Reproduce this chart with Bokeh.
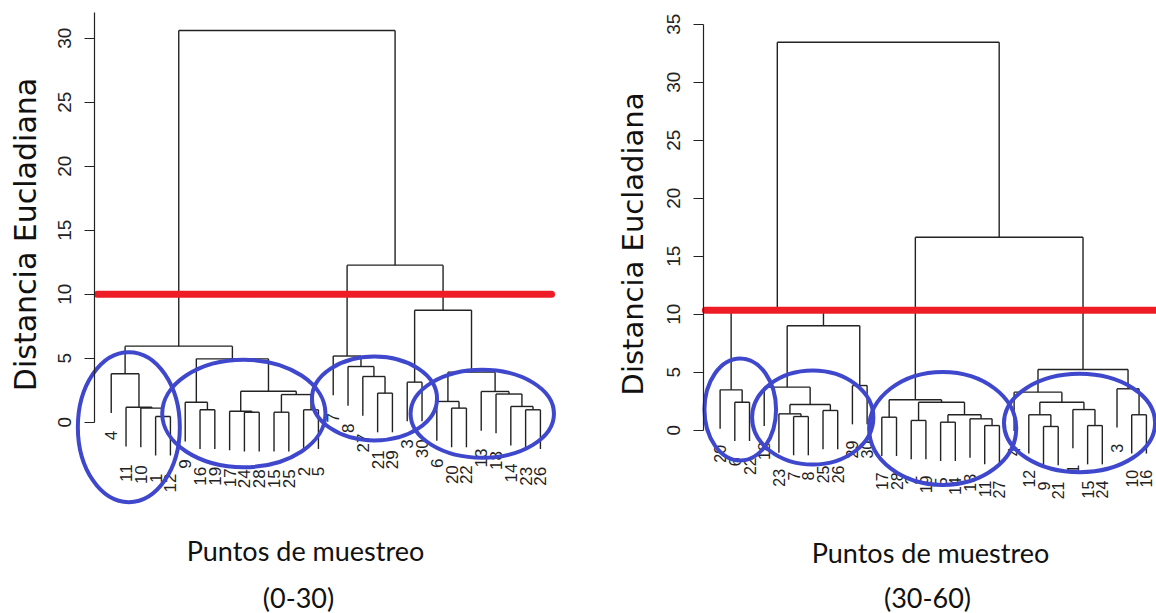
import math
from bokeh.plotting import figure
from bokeh.models import ColumnDataSource, Range1d, SingleIntervalTicker
from bokeh.layouts import row
from bokeh.core.properties import value
from bokeh.embed import file_html
from bokeh.resources import INLINE

# ---------------- data ----------------
# leaf labels in dendrogram order
LEFT_LEAVES = [4, 11, 10, 1, 12, 9, 16, 19, 17, 24, 28, 15, 25, 2, 5,
               7, 8, 27, 21, 29, 3, 30, 6, 20, 22, 13, 18, 14, 23, 26]
# merges (hclust style): negative = leaf position, positive = earlier merge
LEFT_A = [-4, -3, -2, -1, -7, -6, -10, -9, -12, -14, 9, 8, 6, 4,
          -19, -18, -17, -16, -21, -24, -23, -29, -28, -27, -26, 21, 19, 18, 14]
LEFT_B = [-5, 1, 2, 3, -8, 5, -11, 7, -13, -15, 10, 11, 12, 13,
          -20, 15, 16, 17, -22, -25, 20, -30, 22, 23, 24, 25, 26, 27, 28]
LEFT_H = [0.45, 1.10, 1.17, 3.78, 0.97, 1.56, 0.78, 0.86, 0.78, 0.97, 2.16, 2.42, 4.95, 5.94,
          2.27, 3.57, 4.35, 5.17, 3.13, 1.10, 1.62, 0.97, 1.23, 2.20, 2.40, 3.91, 8.75, 12.27, 30.6]
LEFT_CUT = 10.0

RIGHT_LEAVES = [20, 6, 22, 18, 23, 7, 8, 25, 26, 29, 30, 17, 28, 2, 19,
                5, 14, 13, 11, 27, 4, 12, 9, 21, 1, 15, 24, 3, 10, 16]
RIGHT_A = [-2, -1, -6, -5, -8, 4, -4, -10, 7, 2, -12, -14, -16, -19, -18,
           13, 12, 11, -23, -22, -26, -25, 20, -21, -29, -28, 24, 18, 10]
RIGHT_B = [-3, 1, -7, 3, -9, 5, 6, -11, 8, 9, -13, -15, -17, -20, 14,
           15, 16, 17, -24, 19, -27, 21, 22, 23, -30, 25, 26, 27, 28]
RIGHT_H = [2.41, 3.48, 1.18, 1.41, 1.70, 2.21, 3.71, 3.85, 9.0, 10.4, 1.12, 0.84, 0.69, 0.40, 0.98,
           1.33, 2.41, 2.62, 0.32, 1.33, 0.40, 1.78, 2.41, 3.28, 1.33, 3.57, 5.23, 16.64, 33.45]
RIGHT_CUT = 10.35

# group ellipses (centre x, centre y, width, height in data units)
LEFT_ELL_X = [2.19, 9.96, 18.79, 26.07]
LEFT_ELL_Y = [-0.39, 0.68, 1.85, 0.66]
LEFT_ELL_W = [6.89, 11.03, 8.45, 9.69]
LEFT_ELL_H = [11.72, 8.39, 6.56, 6.88]
RIGHT_ELL_X = [2.37, 7.30, 16.14, 25.45]
RIGHT_ELL_Y = [1.78, 1.09, 0.15, 0.62]
RIGHT_ELL_W = [4.87, 8.25, 10.01, 10.28]
RIGHT_ELL_H = [8.79, 8.10, 9.74, 8.48]

Y_TITLE = "Distancia Eucladiana"
X_TITLE = "Puntos de muestreo"
LEFT_SUB = "(0-30)"
RIGHT_SUB = "(30-60)"

# ---------------- style / layout ----------------
TREE_COLOR = "#222222"
CUT_COLOR = "#ee1c25"
ELL_COLOR = "#3f48cc"
FIG_H = 613
LABEL_GAP = 1.4
AXIS_X = -0.13          # data x where the y axis sits (plot region edge)


def dendro_segments(merge_a, merge_b, heights):
    hang = 0.1 * max(heights)
    nx, nh = {}, {}
    x0, y0, x1, y1 = [], [], [], []
    leaf_x, leaf_bottom = [], []
    for i, (a, b, h) in enumerate(zip(merge_a, merge_b, heights), start=1):
        xs = []
        for c in (a, b):
            if c < 0:
                cx, ch = float(-c), h - hang
                leaf_x.append(cx)
                leaf_bottom.append(ch)
            else:
                cx, ch = nx[c], nh[c]
            x0.append(cx); y0.append(ch); x1.append(cx); y1.append(h)
            xs.append(cx)
        x0.append(xs[0]); y0.append(h); x1.append(xs[1]); y1.append(h)
        nx[i] = (xs[0] + xs[1]) / 2.0
        nh[i] = h
    return dict(x0=x0, y0=y0, x1=x1, y1=y1), leaf_x, leaf_bottom


def make_panel(leaves, ma, mb, hts, cut, cut_x, ell, fig_left, width, axis_px, px_x,
               zero_y, px_y, axis_top, tick_size, leaf_size, ytitle_px, ytitle_size,
               title_px, sub_px, sub_text):
    def dx(page_x):
        return AXIS_X + (page_x - axis_px) / px_x

    def dy(page_y):
        return (zero_y - page_y) / px_y

    p = figure(width=width, height=FIG_H, output_backend="svg", toolbar_location=None,
               tools="", x_range=Range1d(dx(fig_left), dx(fig_left + width)),
               y_range=Range1d(dy(FIG_H), dy(0)),
               x_axis_location=None, min_border_left=0, min_border_right=0,
               min_border_top=0, min_border_bottom=0)
    p.outline_line_color = None
    p.xgrid.visible = False
    p.ygrid.visible = False
    p.background_fill_color = "white"
    p.border_fill_color = "white"

    ax = p.yaxis[0]
    ax.fixed_location = AXIS_X
    ax.ticker = SingleIntervalTicker(interval=5, num_minor_ticks=0)
    ax.bounds = (0, axis_top)
    ax.major_tick_out = 10
    ax.major_tick_in = 0
    ax.minor_tick_out = 0
    ax.axis_line_color = "#222222"
    ax.axis_line_width = 1.2
    ax.major_tick_line_color = "#222222"
    ax.major_tick_line_width = 1.2
    ax.major_label_orientation = "parallel"
    ax.major_label_standoff = 13
    ax.major_label_text_font = "Liberation Sans"
    ax.major_label_text_font_size = tick_size
    ax.major_label_text_color = "#222222"

    seg, lx, lb = dendro_segments(ma, mb, hts)
    p.segment(x0="x0", y0="y0", x1="x1", y1="y1", source=ColumnDataSource(seg),
              line_color=TREE_COLOR, line_width=1.4)

    lab = dict(x=lx, y=[b - LABEL_GAP for b in lb], t=[str(leaves[int(x) - 1]) for x in lx])
    p.text(x="x", y="y", text="t", source=ColumnDataSource(lab), angle=math.pi / 2,
           text_align="right", text_baseline="middle", text_font=value("Liberation Sans"),
           text_font_size=leaf_size, text_color="#222222")

    p.line(x=cut_x, y=[cut, cut], line_color=CUT_COLOR, line_width=7, line_cap="round")

    ex, ey, ew, eh = ell
    p.ellipse(x=ex, y=ey, width=ew, height=eh, fill_color=None, line_color=ELL_COLOR,
              line_width=4)

    p.text(x=[dx(ytitle_px[0])], y=[dy(ytitle_px[1])], text=[Y_TITLE], angle=math.pi / 2,
           text_align="center", text_baseline="middle", text_font=value("DejaVu Sans"),
           text_font_size=ytitle_size, text_color="#111111")
    p.text(x=[dx(title_px[0]), dx(sub_px[0])], y=[dy(title_px[1]), dy(sub_px[1])],
           text=[X_TITLE, sub_text], text_align="center", text_baseline="alphabetic",
           text_font=value("Lato"), text_font_size="27px", text_color="#111111")
    return p


p1 = make_panel(LEFT_LEAVES, LEFT_A, LEFT_B, LEFT_H, LEFT_CUT, [0.07, 30.75],
                (LEFT_ELL_X, LEFT_ELL_Y, LEFT_ELL_W, LEFT_ELL_H),
                fig_left=0, width=596, axis_px=94, px_x=14.8, zero_y=421.7, px_y=12.8,
                axis_top=32, tick_size="19px", leaf_size="17px",
                ytitle_px=(25, 234), ytitle_size="30px",
                title_px=(305, 550), sub_px=(298, 596.5), sub_text=LEFT_SUB)
p2 = make_panel(RIGHT_LEAVES, RIGHT_A, RIGHT_B, RIGHT_H, RIGHT_CUT, [0.0, 31.5],
                (RIGHT_ELL_X, RIGHT_ELL_Y, RIGHT_ELL_W, RIGHT_ELL_H),
                fig_left=596, width=560, axis_px=703, px_x=14.7, zero_y=429.7, px_y=11.6,
                axis_top=35, tick_size="19px", leaf_size="16px",
                ytitle_px=(632, 243.5), ytitle_size="29px",
                title_px=(930, 552), sub_px=(927, 597), sub_text=RIGHT_SUB)

layout = row(p1, p2)
open("out.html", "w").write(file_html(layout, INLINE))
